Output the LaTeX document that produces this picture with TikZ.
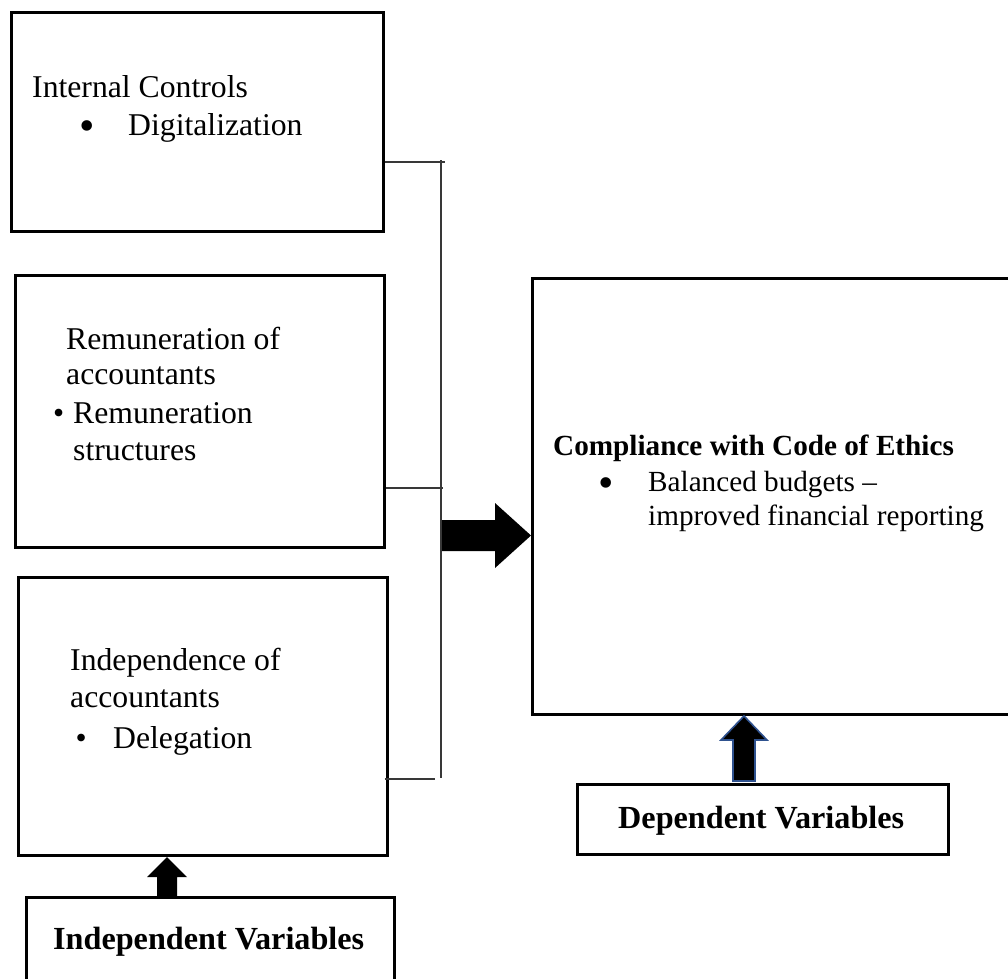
\documentclass[tikz,border=0pt]{standalone}
\usepackage{fontspec}
\setmainfont{Liberation Serif}
\definecolor{outlineblue}{RGB}{47,82,143}
\begin{document}
\begin{tikzpicture}[x=1pt,y=-1pt,
  box/.style={draw=black, line width=2.5pt, inner sep=0pt, anchor=north west, fill=none},
  txt/.style={anchor=base west, inner sep=0pt, font=\fontsize{31.7}{38}\selectfont},
  btxt/.style={anchor=base west, inner sep=0pt, font=\fontsize{32.2}{38}\selectfont\bfseries},
  rtxt/.style={anchor=base west, inner sep=0pt, font=\fontsize{29.2}{34}\selectfont},
  rbtxt/.style={anchor=base west, inner sep=0pt, font=\fontsize{29.2}{34}\selectfont\bfseries},
  bigbullet/.style={anchor=base west, inner sep=0pt, font=\fontsize{44}{44}\selectfont},
  link/.style={draw=black!78, line width=1.3pt},
  blockarrow/.style={fill=black, draw=none},
  bluearrow/.style={fill=black, draw=outlineblue, line width=1.6pt, line join=miter}]
\useasboundingbox (0,0) rectangle (1008,978);

% boxes
\node[box, minimum width=372pt, minimum height=219pt] (ic) at (10,11) {};
\node[box, minimum width=369pt, minimum height=272pt] (rem) at (14,274) {};
\node[box, minimum width=369pt, minimum height=278pt] (ind) at (17,576) {};
\node[box, minimum width=368pt, minimum height=120pt] (indep) at (25,896) {};
\node[box, minimum width=500pt, minimum height=436pt] (comp) at (531,277) {};
\node[box, minimum width=371pt, minimum height=70pt] (dep) at (576,783) {};

% texts
\node[txt] (ic1) at (32,97) {Internal Controls};
\node[bigbullet] (icb) at (79,140) {•};
\node[txt] (ic2) at (128,135) {Digitalization};

\node[txt] (rem1) at (66,349) {Remuneration of};
\node[txt] (rem2) at (66,384) {accountants};
\node[txt] (remb) at (53,423) {•};
\node[txt] (rem3) at (73,423) {Remuneration};
\node[txt] (rem4) at (73,460) {structures};

\node[txt] (ind1) at (70,670) {Independence of};
\node[txt] (ind2) at (70,707) {accountants};
\node[txt] (indb) at (75.5,748) {•};
\node[txt] (ind3) at (113,748) {Delegation};

\node[rbtxt] (comp1) at (553,455) {Compliance with Code of Ethics};
\node[bigbullet] (compb) at (598,497) {•};
\node[rtxt] (comp2) at (648,491) {Balanced budgets –};
\node[rtxt] (comp3) at (648,525) {improved financial reporting};

\node[btxt] (indepT) at (53,949) {Independent Variables};
\node[btxt] (depT) at (618,828) {Dependent Variables};

% connectors
\coordinate (jt) at (441,160);
\coordinate (jb) at (441,778);
\coordinate (h1) at (445,162);
\coordinate (h2) at (443,488);
\coordinate (h3) at (435,779);
\draw[link] (ic.east |- h1) -- (h1);
\draw[link] (rem.east |- h2) -- (h2);
\draw[link] ([xshift=-4pt]ind.east |- h3) -- (h3);
\draw[link] (jt) -- (jb);

% big arrow to compliance box
\draw[blockarrow] (442,520) -- (495,520) -- (495,503) -- (comp.west |- 0,535.5) -- (495,568) -- (495,551) -- (442,551) -- cycle;

% arrow from independent variables
\draw[blockarrow] (157,896) -- (157,877) -- (147,877) -- (167,857) -- (187,877) -- (177,877) -- (177,896) -- cycle;

% arrow from dependent variables
\draw[bluearrow] (733,781) -- (733,740) -- (721,740) -- (744,716) -- (767,740) -- (755,740) -- (755,781) -- cycle;
\end{tikzpicture}
\end{document}
